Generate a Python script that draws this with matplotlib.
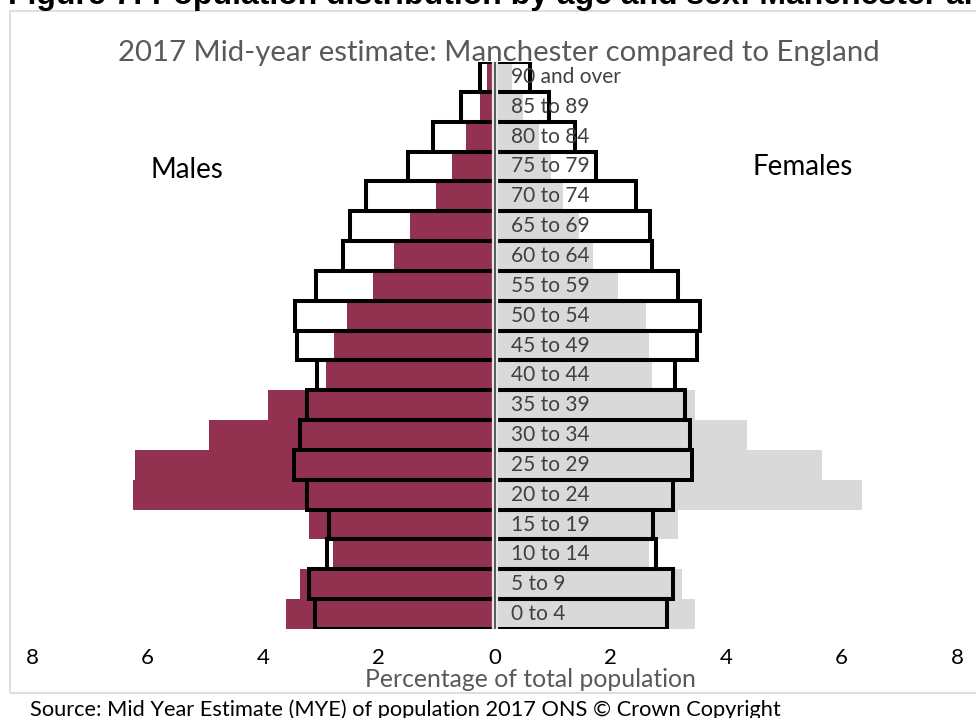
import matplotlib.pyplot as plt
from matplotlib.patches import Rectangle

# Age groups, bottom to top
ages = ["0 to 4", "5 to 9", "10 to 14", "15 to 19", "20 to 24", "25 to 29",
        "30 to 34", "35 to 39", "40 to 44", "45 to 49", "50 to 54", "55 to 59",
        "60 to 64", "65 to 69", "70 to 74", "75 to 79", "80 to 84", "85 to 89",
        "90 and over"]

# % of total population
man_males = [3.60, 3.36, 2.80, 3.21, 6.26, 6.21, 4.93, 3.92, 2.92, 2.78,
             2.55, 2.10, 1.74, 1.47, 1.02, 0.73, 0.50, 0.25, 0.13]
eng_males = [3.11, 3.21, 2.90, 2.86, 3.24, 3.47, 3.36, 3.24, 3.07, 3.41,
             3.45, 3.08, 2.62, 2.50, 2.23, 1.49, 1.06, 0.58, 0.25]
man_females = [3.46, 3.25, 2.68, 3.18, 6.35, 5.67, 4.36, 3.47, 2.73, 2.68,
               2.62, 2.13, 1.71, 1.47, 1.19, 0.97, 0.77, 0.50, 0.30]
eng_females = [2.98, 3.08, 2.79, 2.74, 3.09, 3.41, 3.39, 3.29, 3.12, 3.51,
               3.55, 3.17, 2.73, 2.69, 2.45, 1.76, 1.40, 0.95, 0.62]

xticks = [-8, -6, -4, -2, 0, 2, 4, 6, 8]

W, H = 976, 718
plt.rcParams['font.family'] = ['Lato', 'DejaVu Sans']

fig = plt.figure(figsize=(W / 100, H / 100), dpi=100)

def fx(x):
    return x / W

def fy(y):
    return 1 - y / H

# chart area border
fig.patches.append(Rectangle((fx(10), fy(693)), fx(980) - fx(10), fy(11) - fy(693),
                             transform=fig.transFigure, fill=False,
                             edgecolor="#d9d9d9", linewidth=1.2))

ax = fig.add_axes([fx(32), fy(629), fx(957) - fx(32), fy(62) - fy(629)])

ypos = list(range(len(ages)))
neg_man = [-v for v in man_males]
neg_eng = [-v for v in eng_males]

# Manchester filled bars
ax.barh(ypos, neg_man, height=1.0, color="#923150", zorder=1)
ax.barh(ypos, man_females, height=1.0, color="#d9d9d9", zorder=1)

# England outline bars
ax.barh(ypos, neg_eng, height=1.0, fill=False, edgecolor="black", linewidth=2.9, zorder=3)
ax.barh(ypos, eng_females, height=1.0, fill=False, edgecolor="black", linewidth=2.9, zorder=3)

# centre axis line
ax.axvline(0, color="#e6e6e6", linewidth=4.5, zorder=4)
ax.axvline(0, color="#404040", linewidth=1.2, zorder=5)

# age labels
for i, lab in enumerate(ages):
    ax.text(0.28, i, lab, ha="left", va="center", fontsize=15, color="#404040", zorder=6)

ax.set_xlim(-8, 8)
ax.set_ylim(-0.5, len(ages) - 0.5)
ax.set_xticks(xticks)
ax.set_xticklabels([str(abs(t)) for t in xticks], fontsize=16, color="black")
ax.tick_params(axis="x", length=0, pad=14)
ax.set_yticks([])
for s in ax.spines.values():
    s.set_visible(False)

# texts
fig.text(fx(8), fy(4), "Figure 7: Population distribution by age and sex: Manchester and England",
         family="Liberation Sans", fontweight="bold", fontsize=23, ha="left", va="baseline")
fig.text(fx(499), fy(61.5), "2017 Mid-year estimate: Manchester compared to England",
         fontsize=21.2, color="#595959", ha="center", va="baseline")
fig.text(fx(187), fy(178), "Males", fontsize=20, color="black", ha="center", va="baseline")
fig.text(fx(803), fy(175), "Females", fontsize=20, color="black", ha="center", va="baseline")
fig.text(fx(530), fy(687), "Percentage of total population", fontsize=17.8, color="#595959",
         ha="center", va="baseline")
fig.text(fx(30), fy(716), "Source: Mid Year Estimate (MYE) of population 2017 ONS \u00a9 Crown Copyright",
         fontsize=15.7, color="black", ha="left", va="baseline")

fig.savefig("out.png", dpi=100)
